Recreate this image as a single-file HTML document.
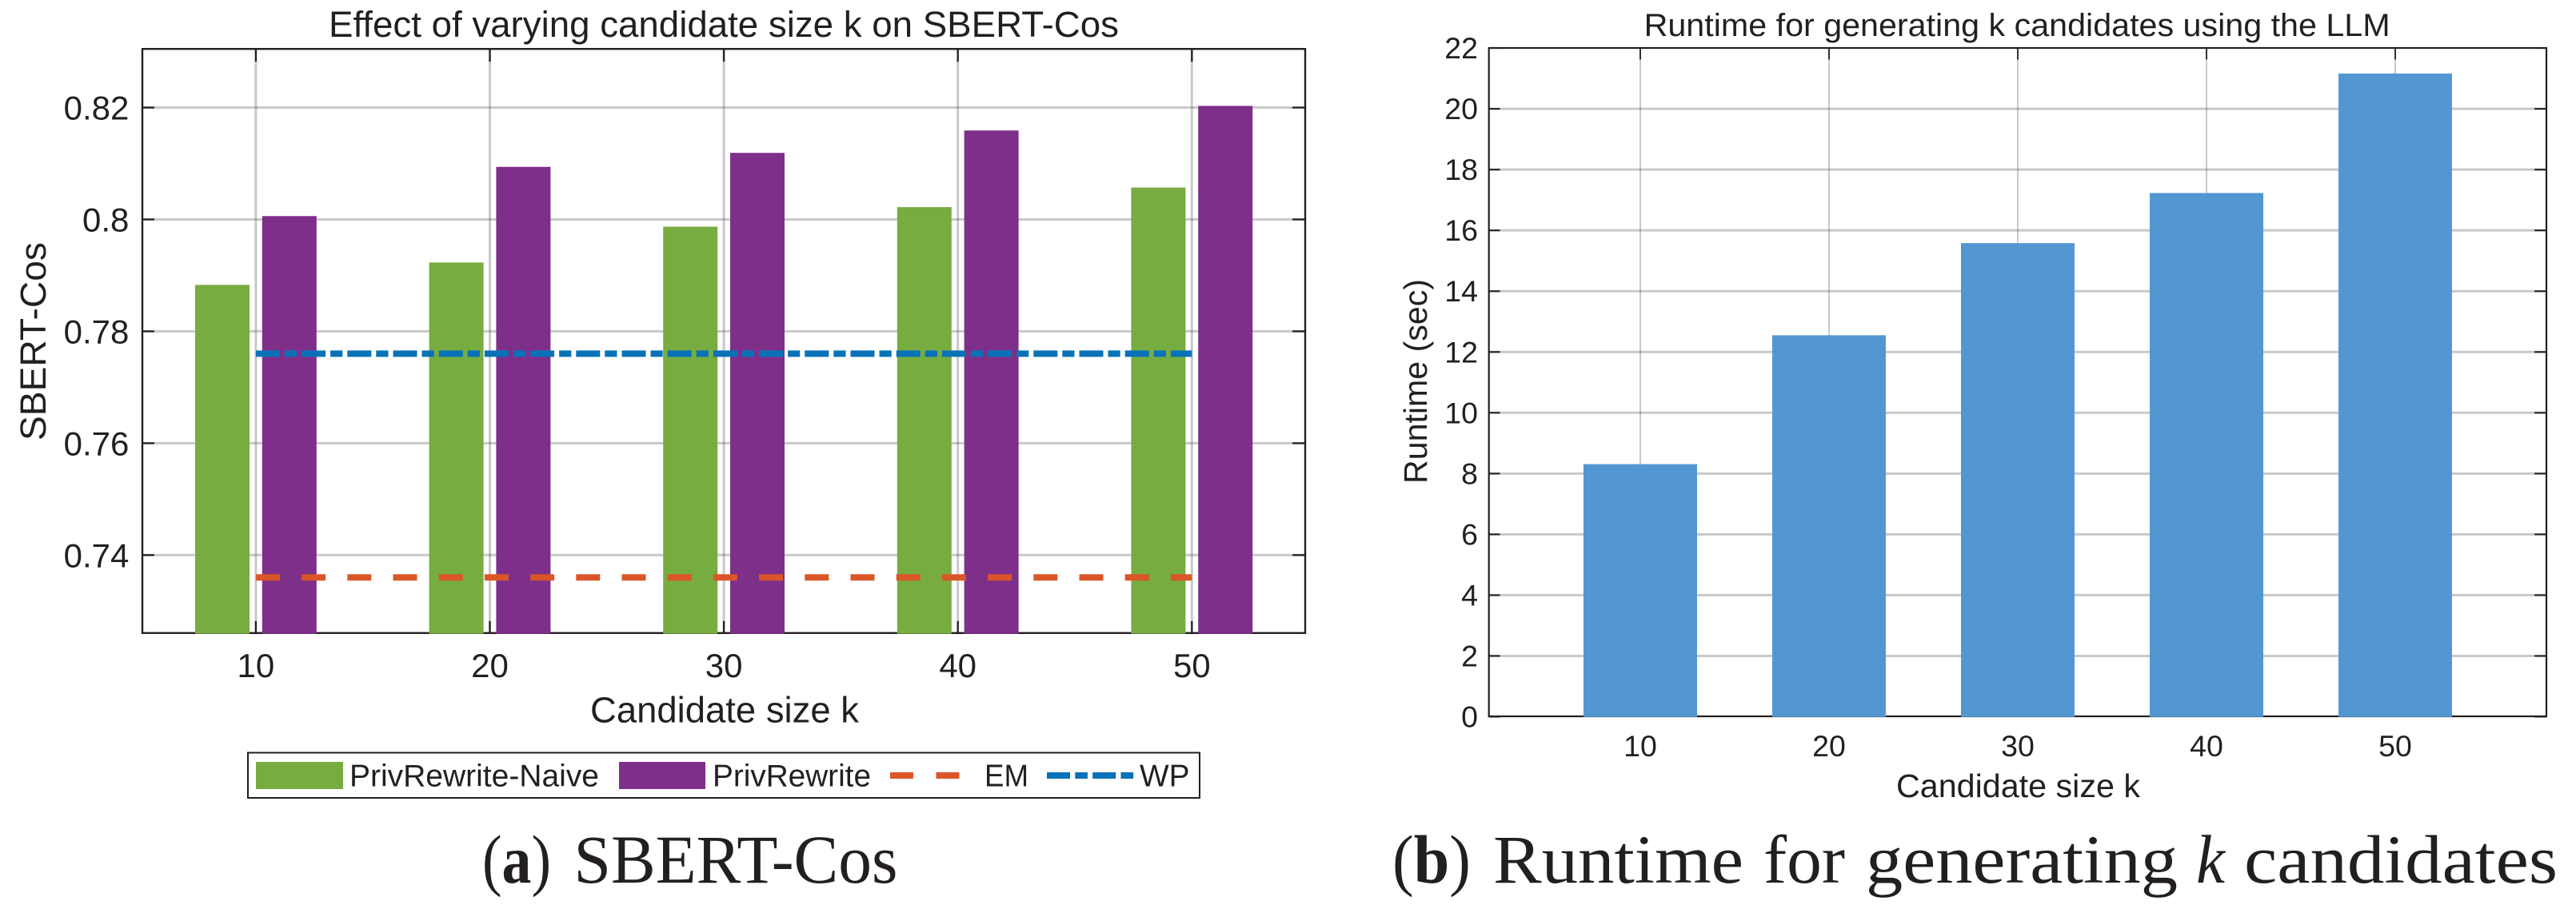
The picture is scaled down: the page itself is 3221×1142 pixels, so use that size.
<!DOCTYPE html>
<html lang="en">
<head>
<meta charset="utf-8">
<title>SBERT-Cos and runtime versus candidate size k</title>
<style>
  html, body { margin: 0; padding: 0; background: #ffffff; }
  svg { display: block; }
  text { font-family: "Liberation Sans", Arial, sans-serif; fill: #231f20; }
  .cap { font-family: "Liberation Serif", "Times New Roman", serif; font-size: 86px; }
</style>
</head>
<body>
<svg id="figure" xmlns="http://www.w3.org/2000/svg" width="3221" height="1142" viewBox="0 0 3221 1142">
  <rect x="0" y="0" width="3221" height="1142" fill="#ffffff"/>

  <g id="chart-a"></g>
  <g id="chart-b"></g>

  <text x="411" y="46" font-size="45.5" textLength="988" lengthAdjust="spacingAndGlyphs">Effect of varying candidate size k on SBERT-Cos</text>
  <text x="738" y="903.5" font-size="45.5" textLength="336" lengthAdjust="spacingAndGlyphs">Candidate size k</text>
  <text transform="translate(57,551) rotate(-90)" font-size="45.5" textLength="248" lengthAdjust="spacingAndGlyphs">SBERT-Cos</text>

  <g>
    <rect x="310" y="941.5" width="1190" height="56.5" fill="#ffffff" stroke="#231f20" stroke-width="2"/>
    <g>
      <rect x="320" y="953" width="109" height="34" fill="#77ac41"/>
      <text x="437" y="983.7" font-size="39" textLength="312" lengthAdjust="spacingAndGlyphs">PrivRewrite-Naive</text>
    </g>
    <g>
      <rect x="774" y="953" width="108" height="34" fill="#7e2f8a"/>
      <text x="891" y="983.7" font-size="39" textLength="198" lengthAdjust="spacingAndGlyphs">PrivRewrite</text>
    </g>
    <g>
      <line x1="1113" y1="970" x2="1200" y2="970" stroke="#da5628" stroke-width="8" stroke-dasharray="29 28.5"/>
      <text x="1231" y="983.7" font-size="39" textLength="55" lengthAdjust="spacingAndGlyphs">EM</text>
    </g>
    <g>
      <line x1="1309" y1="970" x2="1417.5" y2="970" stroke="#0872b8" stroke-width="8" stroke-dasharray="29 6.3 15.6 6.3"/>
      <text x="1425" y="983.7" font-size="39" textLength="62.5" lengthAdjust="spacingAndGlyphs">WP</text>
    </g>
  </g>

  <g>
    <text class="cap" x="603" y="1104" textLength="86" lengthAdjust="spacingAndGlyphs">(<tspan font-weight="bold">a</tspan>)</text>
    <text class="cap" x="717.5" y="1104" textLength="405" lengthAdjust="spacingAndGlyphs">SBERT-Cos</text>
  </g>

  <text x="2055.6" y="45" font-size="40" textLength="933" lengthAdjust="spacingAndGlyphs">Runtime for generating k candidates using the LLM</text>
  <text x="2371" y="997" font-size="41" textLength="305" lengthAdjust="spacingAndGlyphs">Candidate size k</text>
  <text transform="translate(1784,605) rotate(-90)" font-size="41" textLength="256" lengthAdjust="spacingAndGlyphs">Runtime (sec)</text>

  <g>
    <text class="cap" x="1741" y="1104" textLength="98" lengthAdjust="spacingAndGlyphs">(<tspan font-weight="bold">b</tspan>)</text>
    <text class="cap" x="1867" y="1104" textLength="313" lengthAdjust="spacingAndGlyphs">Runtime</text>
    <text class="cap" x="2205" y="1104" textLength="102" lengthAdjust="spacingAndGlyphs">for</text>
    <text class="cap" x="2333" y="1104" textLength="390" lengthAdjust="spacingAndGlyphs">generating</text>
    <text class="cap" x="2746" y="1104" font-style="italic" textLength="36" lengthAdjust="spacingAndGlyphs">k</text>
    <text class="cap" x="2806" y="1104" textLength="392" lengthAdjust="spacingAndGlyphs">candidates</text>
  </g>
</svg>

<script>
// ---- Chart (a) data: SBERT-Cos ----
const candidateSizesA = [10, 20, 30, 40, 50];
const privRewriteNaive = [0.7883, 0.7923, 0.7987, 0.8022, 0.8057];
const privRewrite = [0.8006, 0.8094, 0.8119, 0.8159, 0.8203];
const emValues = [0.736, 0.736, 0.736, 0.736, 0.736];
const wpValues = [0.776, 0.776, 0.776, 0.776, 0.776];
const sbertTicks = [0.74, 0.76, 0.78, 0.8, 0.82];
const sbertTickLabels = ['0.74', '0.76', '0.78', '0.8', '0.82'];
const candidateLabelsA = ['10', '20', '30', '40', '50'];

// ---- Chart (b) data: runtime ----
const candidateSizesB = [10, 20, 30, 40, 50];
const runtimeSeconds = [8.31, 12.55, 15.58, 17.23, 21.16];
const runtimeTicks = [0, 2, 4, 6, 8, 10, 12, 14, 16, 18, 20, 22];
const runtimeTickLabels = ['0', '2', '4', '6', '8', '10', '12', '14', '16', '18', '20', '22'];
const candidateLabelsB = ['10', '20', '30', '40', '50'];

const SVG_NS = 'http://www.w3.org/2000/svg';
const AXIS_COLOR = '#231f20';
const GRID_COLOR = 'rgba(38,38,38,0.25)';

function make(parent, tag, attrs) {
  const el = document.createElementNS(SVG_NS, tag);
  for (const key in attrs) el.setAttribute(key, attrs[key]);
  parent.appendChild(el);
  return el;
}

// Chart (a) axis functions
const plotA = { left: 178, right: 1632, top: 61.2, bottom: 791.8 };
function xA(k) { return 319.9 + (k - 10) * 29.26; }
function yA(v) { return 694.3 - (v - 0.74) * 6997; }

// Chart (b) axis functions
const plotB = { left: 1861.7, right: 3184, top: 60, bottom: 896 };
function xB(k) { return 2051 + (k - 10) * 23.6; }
function yB(v) { return 896.5 - v * 38.02; }

function drawChartA() {
  const g = document.getElementById('chart-a');

  sbertTicks.forEach(function (v, i) {
    const grid = make(g, 'line', { x1: plotA.left, x2: plotA.right, y1: yA(v), y2: yA(v), stroke: GRID_COLOR, 'stroke-width': 3 });
    
    
    const label = make(g, 'text', { x: 161.4, y: yA(v) + 15, 'font-size': 42, 'text-anchor': 'end' });
    label.textContent = sbertTickLabels[i];
    
    
  });
  candidateSizesA.forEach(function (k, i) {
    const grid = make(g, 'line', { x1: xA(k), x2: xA(k), y1: plotA.top, y2: plotA.bottom, stroke: GRID_COLOR, 'stroke-width': 3 });
    
    
    const label = make(g, 'text', { x: xA(k), y: 847, 'font-size': 42, 'text-anchor': 'middle' });
    label.textContent = candidateLabelsA[i];
    
    
  });

  const frame = make(g, 'rect', { x: plotA.left, y: plotA.top, width: plotA.right - plotA.left, height: plotA.bottom - plotA.top, fill: 'none', stroke: AXIS_COLOR, 'stroke-width': 2.4 });
  
  

  sbertTicks.forEach(function (v) {
    [[plotA.left, plotA.left + 15], [plotA.right - 16, plotA.right]].forEach(function (p) {
      const tick = make(g, 'line', { x1: p[0], x2: p[1], y1: yA(v), y2: yA(v), stroke: AXIS_COLOR, 'stroke-width': 2.2 });
      
      
    });
  });
  candidateSizesA.forEach(function (k) {
    [[plotA.top, plotA.top + 16], [plotA.bottom - 15, plotA.bottom]].forEach(function (p) {
      const tick = make(g, 'line', { x1: xA(k), x2: xA(k), y1: p[0], y2: p[1], stroke: AXIS_COLOR, 'stroke-width': 2.2 });
      
      
    });
  });

  candidateSizesA.forEach(function (k, i) {
    const naive = make(g, 'rect', { x: xA(k) - 75.9, y: yA(privRewriteNaive[i]), width: 68, height: plotA.bottom + 0.9 - yA(privRewriteNaive[i]), fill: '#77ac41' });
    
    
    const full = make(g, 'rect', { x: xA(k) + 7.9, y: yA(privRewrite[i]), width: 68, height: plotA.bottom + 0.9 - yA(privRewrite[i]), fill: '#7e2f8a' });
    
    
  });

  const emPath = make(g, 'polyline', {
    points: candidateSizesA.map(function (k, i) { return xA(k) + ',' + yA(emValues[i]); }).join(' '),
    fill: 'none', stroke: '#da5628', 'stroke-width': 8, 'stroke-dasharray': '30 27.2'
  });
  
  

  const wpPath = make(g, 'polyline', {
    points: candidateSizesA.map(function (k, i) { return xA(k) + ',' + yA(wpValues[i]); }).join(' '),
    fill: 'none', stroke: '#0872b8', 'stroke-width': 8, 'stroke-dasharray': '30 6 15.2 6'
  });
  
  
}

function drawChartB() {
  const g = document.getElementById('chart-b');

  runtimeTicks.forEach(function (v, i) {
    if (v > 0 && v < 22) {
      const grid = make(g, 'line', { x1: plotB.left, x2: plotB.right, y1: yB(v), y2: yB(v), stroke: GRID_COLOR, 'stroke-width': 3 });
      
      
    }
    const label = make(g, 'text', { x: 1848, y: yB(v) + 13, 'font-size': 37.5, 'text-anchor': 'end' });
    label.textContent = runtimeTickLabels[i];
    
    
  });
  candidateSizesB.forEach(function (k, i) {
    const grid = make(g, 'line', { x1: xB(k), x2: xB(k), y1: plotB.top, y2: plotB.bottom, stroke: GRID_COLOR, 'stroke-width': 2 });
    
    
    const label = make(g, 'text', { x: xB(k), y: 946, 'font-size': 37.5, 'text-anchor': 'middle' });
    label.textContent = candidateLabelsB[i];
    
    
  });

  const frame = make(g, 'rect', { x: plotB.left, y: plotB.top, width: plotB.right - plotB.left, height: plotB.bottom - plotB.top, fill: 'none', stroke: AXIS_COLOR, 'stroke-width': 2.2 });
  
  

  runtimeTicks.forEach(function (v) {
    [[plotB.left, plotB.left + 14], [plotB.right - 15, plotB.right]].forEach(function (p) {
      const tick = make(g, 'line', { x1: p[0], x2: p[1], y1: yB(v), y2: yB(v), stroke: AXIS_COLOR, 'stroke-width': 2 });
      
      
    });
  });
  candidateSizesB.forEach(function (k) {
    [[plotB.top, plotB.top + 14.5], [plotB.bottom - 14.5, plotB.bottom]].forEach(function (p) {
      const tick = make(g, 'line', { x1: xB(k), x2: xB(k), y1: p[0], y2: p[1], stroke: AXIS_COLOR, 'stroke-width': 1.8 });
      
      
    });
  });

  candidateSizesB.forEach(function (k, i) {
    const bar = make(g, 'rect', { x: xB(k) - 71, y: yB(runtimeSeconds[i]), width: 142, height: plotB.bottom + 0.8 - yB(runtimeSeconds[i]), fill: '#5397d2' });
    
    
  });
}

drawChartA();
drawChartB();
</script>
</body>
</html>
